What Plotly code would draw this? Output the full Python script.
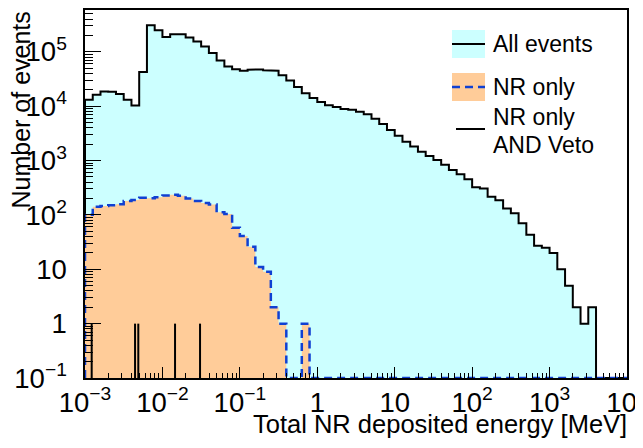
import numpy as np
import plotly.graph_objects as go

# ---------------- data ----------------
# 10 log-spaced bins per decade from 1e-3 to 1e4 MeV
decade_lo, decade_hi, bins_per_decade = -3, 4, 10
bin_edges = np.logspace(decade_lo, decade_hi, (decade_hi - decade_lo) * bins_per_decade + 1)

all_events = [
    1.31e4, 1.62e4, 1.86e4, 1.84e4, 1.67e4, 1.31e4, 1.03e4, 4.24e4, 3.10e5, 2.50e5,
    1.88e5, 2.10e5, 2.10e5, 1.84e5, 1.55e5, 1.25e5, 9.5e4, 6.9e4, 5.4e4, 4.8e4,
    4.5e4, 4.7e4, 4.75e4, 4.6e4, 4.5e4, 3.7e4, 2.97e4, 2.25e4, 1.74e4, 1.41e4,
    1.20e4, 1.04e4, 9.7e3, 8.9e3, 8.6e3, 7.9e3, 7.1e3, 5.9e3, 4.7e3, 3.67e3,
    2.85e3, 2.23e3, 1.81e3, 1.46e3, 1.22e3, 1.02e3, 840, 673, 560, 454,
    324, 307, 217, 186, 131, 107, 70, 43, 27, 25,
    20, 10, 5, 2, 1, 2, 0, 0, 0, 0,
]

nr_only = [
    101, 142, 146, 151, 158, 181, 189, 206, 203, 212,
    228, 235, 225, 200, 180, 165, 155, 112, 104, 58,
    41, 26, 11, 9, 2, 1, 0, 0, 1, 0,
    0, 0, 0, 0, 0, 0, 0, 0, 0, 0,
    0, 0, 0, 0, 0, 0, 0, 0, 0, 0,
    0, 0, 0, 0, 0, 0, 0, 0, 0, 0,
    0, 0, 0, 0, 0, 0, 0, 0, 0, 0,
]

# NR only AND Veto: single events (fine binning), energies in MeV
veto_energies = [1.22e-3, 4.43e-3, 4.88e-3, 1.455e-2, 3.06e-2]
veto_counts = [1, 1, 1, 1, 1]

x_title = "Total NR deposited energy [MeV]"
y_title = "Number of events"
legend_labels = ["All events", "NR only", "NR only", "AND Veto"]

y_min, y_max_log = 0.1, 5.77
x_range_log = [decade_lo, decade_hi]

FONT = "Liberation Sans, Arial, sans-serif"
CYAN = "rgb(204,255,255)"
ORANGE = "rgb(255,204,153)"
BLUE = "rgb(16,64,210)"


def step_path(edges, values, floor):
    v = np.where(np.asarray(values, float) > 0, values, floor)
    xs = np.repeat(edges, 2)
    ys = np.concatenate([[floor], np.repeat(v, 2), [floor]])
    return xs, ys


fig = go.Figure()

xs, ys = step_path(bin_edges, all_events, y_min)
fig.add_trace(go.Scatter(x=xs, y=ys, mode="lines", fill="toself", fillcolor=CYAN,
                         line=dict(color="black", width=2), hoverinfo="skip",
                         showlegend=False))

xs, ys = step_path(bin_edges, nr_only, y_min)
fig.add_trace(go.Scatter(x=xs, y=ys, mode="lines", fill="toself", fillcolor=ORANGE,
                         line=dict(color="rgba(0,0,0,0)", width=0), hoverinfo="skip",
                         showlegend=False))
fig.add_trace(go.Scatter(x=xs, y=ys, mode="lines",
                         line=dict(color=BLUE, width=2.5, dash="8px,5px"),
                         hoverinfo="skip", showlegend=False))

vx, vy = [], []
for e, c in zip(veto_energies, veto_counts):
    vx += [e, e, None]
    vy += [y_min, c, None]
fig.add_trace(go.Scatter(x=vx, y=vy, mode="lines", line=dict(color="black", width=2),
                         hoverinfo="skip", showlegend=False))

axis_common = dict(
    type="log", showgrid=False, zeroline=False, showline=True, linecolor="black",
    linewidth=1.5, mirror=True, ticks="inside", tickcolor="black", tickwidth=1.3,
    dtick=1, exponentformat="power", automargin=False,
    tickfont=dict(family=FONT, size=22, color="black"),
)

fig.update_xaxes(range=x_range_log, ticklen=11, ticklabelstandoff=0,
                 minor=dict(dtick="D1", ticks="inside", ticklen=5.5, tickcolor="black", tickwidth=1),
                 **axis_common)
fig.update_yaxes(range=[np.log10(y_min), y_max_log], ticklen=16, ticklabelstandoff=12,
                 minor=dict(dtick="D1", ticks="inside", ticklen=8, tickcolor="black", tickwidth=1),
                 **axis_common)

# page body adds an 8px offset; positions below are given in screen pixels
OFF = 8
W, H = 643, 448
SL, SR, ST, SB = 85, 627, 10, 378          # plot frame on screen
L, T = SL - OFF, ST - OFF
R, B = W - (SR - OFF), H - (SB - OFF)
pw, ph = SR - SL, SB - ST


def px(xs_):
    return (xs_ - SL) / pw


def py(ys_):
    return (SB - ys_) / ph


shapes = [
    dict(type="rect", xref="paper", yref="paper", x0=px(452), x1=px(485), y0=py(58), y1=py(30),
         fillcolor=CYAN, line=dict(width=0), layer="above"),
    dict(type="line", xref="paper", yref="paper", x0=px(452), x1=px(485), y0=py(44), y1=py(44),
         line=dict(color="black", width=2), layer="above"),
    dict(type="rect", xref="paper", yref="paper", x0=px(452), x1=px(485), y0=py(101), y1=py(73),
         fillcolor=ORANGE, line=dict(width=0), layer="above"),
    dict(type="line", xref="paper", yref="paper", x0=px(452), x1=px(485), y0=py(87), y1=py(87),
         line=dict(color=BLUE, width=2.5, dash="8px,5px"), layer="above"),
    dict(type="line", xref="paper", yref="paper", x0=px(456), x1=px(485), y0=py(129), y1=py(129),
         line=dict(color="black", width=2), layer="above"),
]

ann_font = dict(family=FONT, size=23, color="black")
annotations = [
    dict(text=legend_labels[0], x=px(491), y=py(44), xref="paper", yref="paper",
         xanchor="left", yanchor="middle", showarrow=False, font=ann_font),
    dict(text=legend_labels[1], x=px(491), y=py(87), xref="paper", yref="paper",
         xanchor="left", yanchor="middle", showarrow=False, font=ann_font),
    dict(text=legend_labels[2], x=px(491), y=py(117), xref="paper", yref="paper",
         xanchor="left", yanchor="middle", showarrow=False, font=ann_font),
    dict(text=legend_labels[3], x=px(491), y=py(145), xref="paper", yref="paper",
         xanchor="left", yanchor="middle", showarrow=False, font=ann_font),
    dict(text=x_title, x=px(629), y=py(424), xref="paper", yref="paper",
         xanchor="right", yanchor="middle", showarrow=False,
         font=dict(family=FONT, size=25.5, color="black")),
    dict(text=y_title, x=px(20), y=py(10), xref="paper", yref="paper", textangle=-90,
         xanchor="center", yanchor="top", showarrow=False,
         font=dict(family=FONT, size=25, color="black")),
]

fig.update_layout(
    width=W, height=H, margin=dict(l=L, r=R, t=T, b=B),
    paper_bgcolor="white", plot_bgcolor="white",
    shapes=shapes, annotations=annotations, showlegend=False,
    font=dict(family=FONT, color="black"),
)

fig.write_html("out.html")
